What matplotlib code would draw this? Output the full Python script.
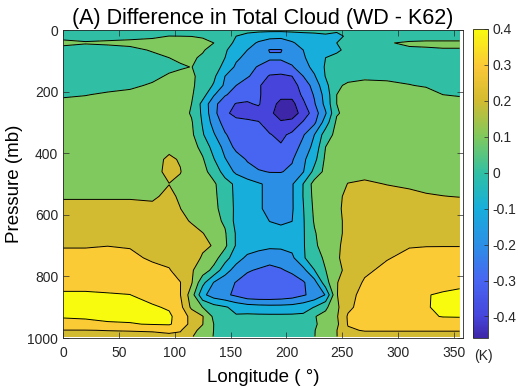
import numpy as np
import matplotlib.pyplot as plt
from matplotlib.colors import LinearSegmentedColormap, Normalize
from matplotlib.cm import ScalarMappable

plt.rcParams['font.family'] = ['Liberation Sans', 'DejaVu Sans']

# longitude (deg) and pressure (mb) of the grid
lon = [0, 20, 40, 60, 80, 95, 105, 115, 125, 135, 145, 155, 165, 175, 185,
       195, 205, 215, 225, 235, 245, 255, 270, 290, 310, 325, 340, 355]
pres = [0, 20, 42, 65, 90, 120, 150, 180, 210, 240, 270, 300, 340, 380, 420,
        460, 500, 540, 580, 620, 660, 700, 740, 780, 820, 860, 900, 930, 955,
        975, 995]

# cloud difference WD - K62, one row per pressure level
diff = [
    [0.05, 0.05, 0.05, 0.05, 0.05, 0.05, 0.05, 0.05, 0.05, 0.05, 0.05, 0.04, 0.03, 0.03, 0.03, 0.03, 0.03, 0.03, 0.03, 0.03, 0.02, 0.04, 0.05, 0.05, 0.05, 0.05, 0.05, 0.05],
    [0.075, 0.08, 0.08, 0.083, 0.087, 0.101, 0.1, 0.099, 0.094, 0.07, 0.04, 0.0, -0.03, -0.06, -0.08, -0.085, -0.06, -0.04, -0.03, -0.015, -0.03, 0.02, 0.05, 0.06, 0.065, 0.065, 0.065, 0.065],
    [0.12, 0.105, 0.11, 0.115, 0.125, 0.13, 0.13, 0.125, 0.115, 0.1, 0.04, -0.02, -0.07, -0.11, -0.13, -0.13, -0.11, -0.07, -0.04, -0.03, 0.0, 0.03, 0.06, 0.095, 0.11, 0.115, 0.115, 0.115],
    [0.07, 0.07, 0.075, 0.085, 0.105, 0.125, 0.13, 0.13, 0.11, 0.06, 0.01, -0.04, -0.1, -0.15, -0.205, -0.205, -0.15, -0.1, -0.06, -0.04, -0.02, 0.03, 0.06, 0.085, 0.09, 0.09, 0.095, 0.095],
    [0.05, 0.05, 0.055, 0.065, 0.085, 0.1, 0.115, 0.115, 0.085, 0.035, 0.0, -0.08, -0.13, -0.17, -0.19, -0.19, -0.16, -0.11, -0.06, 0.0, 0.03, 0.05, 0.06, 0.07, 0.07, 0.07, 0.07, 0.07],
    [0.04, 0.04, 0.045, 0.055, 0.065, 0.08, 0.09, 0.102, 0.07, 0.03, -0.02, -0.12, -0.18, -0.205, -0.23, -0.23, -0.21, -0.14, -0.07, 0.01, 0.04, 0.06, 0.07, 0.075, 0.075, 0.075, 0.075, 0.07],
    [0.04, 0.04, 0.045, 0.055, 0.08, 0.11, 0.125, 0.115, 0.07, 0.02, -0.1, -0.15, -0.19, -0.24, -0.31, -0.32, -0.3, -0.2, -0.11, 0.005, 0.05, 0.08, 0.09, 0.09, 0.085, 0.08, 0.08, 0.075],
    [0.06, 0.065, 0.075, 0.085, 0.11, 0.13, 0.135, 0.115, 0.06, -0.01, -0.12, -0.2, -0.25, -0.29, -0.34, -0.36, -0.34, -0.26, -0.16, -0.03, 0.09, 0.11, 0.115, 0.11, 0.102, 0.095, 0.09, 0.085],
    [0.09, 0.097, 0.11, 0.12, 0.13, 0.14, 0.14, 0.11, 0.04, -0.09, -0.19, -0.24, -0.27, -0.29, -0.34, -0.38, -0.37, -0.28, -0.19, -0.06, 0.1, 0.13, 0.14, 0.135, 0.13, 0.12, 0.1, 0.095],
    [0.12, 0.125, 0.13, 0.135, 0.14, 0.145, 0.145, 0.1, -0.03, -0.17, -0.26, -0.305, -0.31, -0.29, -0.37, -0.42, -0.43, -0.32, -0.21, -0.07, 0.1, 0.13, 0.145, 0.15, 0.145, 0.14, 0.13, 0.12],
    [0.13, 0.135, 0.14, 0.145, 0.15, 0.15, 0.145, 0.09, -0.02, -0.17, -0.28, -0.33, -0.34, -0.34, -0.38, -0.44, -0.45, -0.36, -0.25, -0.11, 0.09, 0.13, 0.15, 0.155, 0.155, 0.15, 0.145, 0.14],
    [0.14, 0.14, 0.145, 0.15, 0.155, 0.155, 0.15, 0.11, -0.01, -0.14, -0.24, -0.27, -0.28, -0.295, -0.34, -0.39, -0.37, -0.29, -0.22, -0.05, 0.12, 0.14, 0.155, 0.16, 0.16, 0.16, 0.155, 0.15],
    [0.145, 0.15, 0.15, 0.155, 0.16, 0.165, 0.155, 0.12, 0.01, -0.09, -0.19, -0.25, -0.27, -0.28, -0.295, -0.32, -0.28, -0.21, -0.1, 0.05, 0.13, 0.15, 0.16, 0.165, 0.165, 0.165, 0.16, 0.16],
    [0.15, 0.155, 0.155, 0.16, 0.17, 0.185, 0.175, 0.14, 0.07, -0.04, -0.13, -0.23, -0.26, -0.28, -0.29, -0.29, -0.26, -0.16, -0.07, 0.1, 0.14, 0.16, 0.165, 0.17, 0.17, 0.17, 0.17, 0.165],
    [0.155, 0.16, 0.16, 0.165, 0.18, 0.21, 0.195, 0.15, 0.11, 0.005, -0.095, -0.15, -0.21, -0.25, -0.26, -0.25, -0.21, -0.12, -0.03, 0.12, 0.15, 0.16, 0.17, 0.175, 0.175, 0.175, 0.175, 0.17],
    [0.16, 0.165, 0.165, 0.17, 0.18, 0.215, 0.203, 0.16, 0.13, 0.06, -0.04, -0.12, -0.16, -0.19, -0.205, -0.205, -0.18, -0.105, 0.03, 0.13, 0.16, 0.175, 0.18, 0.18, 0.18, 0.18, 0.18, 0.18],
    [0.165, 0.17, 0.17, 0.175, 0.185, 0.199, 0.185, 0.17, 0.14, 0.115, 0.04, -0.02, -0.06, -0.09, -0.12, -0.13, -0.11, 0.002, 0.14, 0.17, 0.17, 0.202, 0.21, 0.198, 0.19, 0.185, 0.18, 0.175],
    [0.195, 0.195, 0.195, 0.195, 0.19, 0.215, 0.19, 0.16, 0.135, 0.12, 0.05, -0.02, -0.06, -0.09, -0.12, -0.13, -0.11, 0.003, 0.13, 0.17, 0.19, 0.21, 0.23, 0.225, 0.215, 0.205, 0.201, 0.198],
    [0.215, 0.215, 0.215, 0.215, 0.215, 0.22, 0.201, 0.165, 0.14, 0.125, 0.06, -0.02, -0.06, -0.09, -0.12, -0.13, -0.11, -0.005, 0.12, 0.17, 0.19, 0.215, 0.24, 0.245, 0.24, 0.235, 0.23, 0.225],
    [0.235, 0.235, 0.235, 0.235, 0.235, 0.23, 0.215, 0.195, 0.15, 0.13, 0.085, -0.03, -0.06, -0.08, -0.101, -0.11, -0.101, -0.01, 0.11, 0.17, 0.19, 0.21, 0.25, 0.26, 0.26, 0.255, 0.25, 0.25],
    [0.26, 0.26, 0.26, 0.26, 0.255, 0.25, 0.235, 0.22, 0.203, 0.16, 0.11, -0.01, -0.05, -0.07, -0.08, -0.08, -0.07, -0.01, 0.09, 0.16, 0.19, 0.21, 0.26, 0.28, 0.285, 0.285, 0.28, 0.28],
    [0.295, 0.295, 0.299, 0.295, 0.28, 0.26, 0.245, 0.23, 0.215, 0.195, 0.12, -0.01, -0.05, -0.07, -0.08, -0.08, -0.07, -0.01, 0.08, 0.15, 0.19, 0.22, 0.26, 0.285, 0.295, 0.297, 0.297, 0.297],
    [0.32, 0.32, 0.32, 0.315, 0.29, 0.28, 0.265, 0.24, 0.19, 0.14, 0.04, -0.06, -0.12, -0.14, -0.16, -0.15, -0.12, -0.01, 0.05, 0.12, 0.19, 0.23, 0.27, 0.295, 0.32, 0.33, 0.335, 0.335],
    [0.345, 0.345, 0.35, 0.345, 0.32, 0.305, 0.27, 0.21, 0.15, 0.07, -0.06, -0.14, -0.19, -0.21, -0.23, -0.21, -0.18, -0.13, -0.002, 0.098, 0.17, 0.23, 0.285, 0.32, 0.345, 0.355, 0.36, 0.365],
    [0.375, 0.375, 0.375, 0.37, 0.35, 0.33, 0.302, 0.21, 0.03, -0.105, -0.16, -0.205, -0.24, -0.26, -0.27, -0.27, -0.25, -0.21, -0.14, 0.06, 0.195, 0.25, 0.31, 0.35, 0.37, 0.38, 0.385, 0.39],
    [0.41, 0.41, 0.405, 0.401, 0.37, 0.34, 0.302, 0.15, -0.075, -0.15, -0.18, -0.22, -0.27, -0.28, -0.28, -0.27, -0.25, -0.21, -0.17, -0.095, 0.195, 0.27, 0.33, 0.37, 0.39, 0.398, 0.405, 0.41],
    [0.42, 0.42, 0.42, 0.415, 0.41, 0.39, 0.33, 0.18, 0.098, 0.04, 0.01, -0.03, -0.05, -0.06, -0.065, -0.065, -0.06, -0.04, 0.003, 0.08, 0.18, 0.28, 0.34, 0.37, 0.385, 0.395, 0.415, 0.42],
    [0.41, 0.415, 0.42, 0.42, 0.42, 0.415, 0.36, 0.27, 0.205, 0.08, 0.04, 0.01, 0.02, 0.02, 0.02, 0.02, 0.02, 0.02, 0.095, 0.13, 0.19, 0.31, 0.35, 0.37, 0.385, 0.39, 0.403, 0.405],
    [0.36, 0.37, 0.39, 0.395, 0.405, 0.41, 0.36, 0.27, 0.202, 0.099, 0.05, 0.04, 0.03, 0.03, 0.03, 0.03, 0.03, 0.01, 0.09, 0.13, 0.18, 0.305, 0.34, 0.35, 0.355, 0.36, 0.36, 0.36],
    [0.298, 0.298, 0.302, 0.305, 0.31, 0.32, 0.31, 0.22, 0.18, 0.098, 0.06, 0.04, 0.04, 0.04, 0.04, 0.04, 0.04, 0.04, 0.097, 0.14, 0.198, 0.29, 0.305, 0.305, 0.305, 0.305, 0.305, 0.305],
    [0.27, 0.27, 0.27, 0.27, 0.27, 0.28, 0.27, 0.21, 0.14, 0.097, 0.06, 0.05, 0.05, 0.05, 0.05, 0.05, 0.05, 0.05, 0.098, 0.14, 0.198, 0.26, 0.27, 0.27, 0.27, 0.27, 0.27, 0.27],
]

levels = [-0.4, -0.3, -0.2, -0.1, 0.0, 0.1, 0.2, 0.3, 0.4]
cbar_ticks = [-0.4, -0.3, -0.2, -0.1, 0, 0.1, 0.2, 0.3, 0.4]

# parula-like colormap
parula = LinearSegmentedColormap.from_list('parula', [
    (0.00, '#3e26a8'), (0.07, '#4646dc'), (0.19, '#4767f2'), (0.30, '#2c8ee6'),
    (0.42, '#18aedb'), (0.53, '#2ebfa6'), (0.65, '#7ec95e'), (0.77, '#d3bb30'),
    (0.88, '#fbc838'), (1.00, '#f9fb0e')])
norm = Normalize(-0.46, 0.4)

fill_levels = [-1.0] + levels + [1.0]
fill_colors = [parula(norm(max(v, -0.46))) for v in fill_levels[:-1]]

fig = plt.figure(figsize=(5.18, 3.89), dpi=100)
ax = fig.add_axes([63 / 518, 1 - 338 / 389, 400 / 518, 308 / 389])
ax.contourf(lon, pres, diff, levels=fill_levels, colors=fill_colors)
ax.contour(lon, pres, diff, levels=levels, colors='k', linewidths=0.7,
           linestyles='solid')
ax.set_xlim(0, 358)
ax.set_ylim(1000, 0)
ax.set_xticks([0, 50, 100, 150, 200, 250, 300, 350])
ax.set_yticks([0, 200, 400, 600, 800, 1000])
ax.tick_params(direction='in', top=True, right=True, length=4, width=0.5,
               labelsize=10, colors='#262626')
ax.tick_params(axis='x', pad=6)
for s in ax.spines.values():
    s.set_linewidth(0.6)
    s.set_color('#262626')
ax.set_xlabel('Longitude ( °)', fontsize=13.5, labelpad=6)
ax.set_ylabel('Pressure (mb)', fontsize=13.5, labelpad=3)
ax.set_title('(A) Difference in Total Cloud (WD - K62)', fontsize=15.5, pad=4)

cax = fig.add_axes([473 / 518, 1 - 338 / 389, 15 / 518, 309 / 389])
sm = ScalarMappable(norm=norm, cmap=parula)
cb = fig.colorbar(sm, cax=cax, ticks=cbar_ticks)
cb.ax.set_yticklabels(['-0.4', '-0.3', '-0.2', '-0.1', '0', '0.1', '0.2', '0.3', '0.4'])
cb.ax.tick_params(direction='in', length=3, width=0.5, labelsize=10, colors='#262626')
cb.outline.set_linewidth(0.6)
cb.outline.set_edgecolor('#262626')
fig.text(483 / 518, 1 - 356 / 389, '(K)', ha='center', va='center', fontsize=10, color='#262626')

fig.savefig('out.png', dpi=100)
